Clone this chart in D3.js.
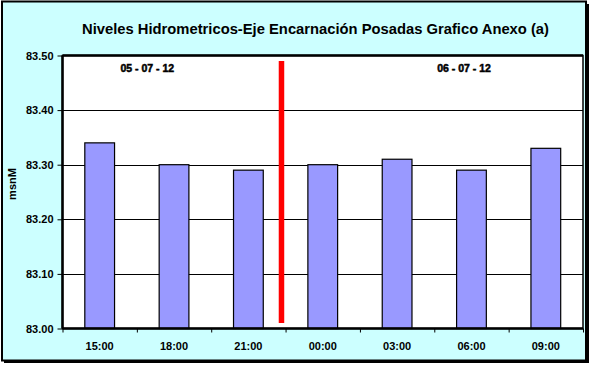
<!DOCTYPE html>
<html><head><meta charset="utf-8">
<script src="https://cdn.jsdelivr.net/npm/d3@7"></script>
<style>body{margin:0;background:#fff}svg{display:block}</style>
</head><body>
<script>
const categories = ["15:00","18:00","21:00","00:00","03:00","06:00","09:00"];
const values = [83.34, 83.30, 83.29, 83.30, 83.31, 83.29, 83.33];
const yTicks = [83.00, 83.10, 83.20, 83.30, 83.40, 83.50];
const dateLabels = [{text:"05 - 07 - 12", at:1.14}, {text:"06 - 07 - 12", at:5.40}];
const divider = {at: 2.945, from: 83.01, to: 83.49};
const title = "Niveles Hidrometricos-Eje Encarnación Posadas Grafico Anexo (a)";
const yTitle = "msnM";

const W = 595, H = 368;
const m = {left: 62.5, right: 583, top: 55.5, bottom: 328.5};
const svg = d3.select("body").append("svg").attr("width", W).attr("height", H);

// frame with shadow
svg.append("rect").attr("x",4).attr("y",4).attr("width",585).attr("height",359).attr("fill","#000");
svg.append("rect").attr("x",2).attr("y",1.5).attr("width",584).attr("height",359)
  .attr("fill","#CCFFFF").attr("stroke","#000").attr("stroke-width",2);

const x = d3.scaleBand().domain(categories).range([m.left, m.right]).paddingInner(0.6).paddingOuter(0.3);
const xi = d3.scaleLinear().domain([0, categories.length]).range([m.left, m.right]);
const y = d3.scaleLinear().domain([83.0, 83.5]).range([m.bottom, m.top]);

svg.append("rect").attr("x",m.left).attr("y",m.top).attr("width",m.right-m.left).attr("height",m.bottom-m.top).attr("fill","#fff");

// gridlines
svg.append("g").selectAll("line").data(yTicks.slice(1,-1)).join("line")
  .attr("x1",m.left).attr("x2",m.right).attr("y1",d=>Math.round(y(d))+0.5).attr("y2",d=>Math.round(y(d))+0.5)
  .attr("stroke","#000").attr("stroke-width",1);

// bars
svg.append("g").selectAll("rect").data(values).join("rect")
  .attr("x",(d,i)=>x(categories[i])).attr("width",x.bandwidth())
  .attr("y",d=>y(d)).attr("height",d=>y(83.0)-y(d))
  .attr("fill","#9999FF").attr("stroke","#000").attr("stroke-width",1.2);

// plot border
svg.append("rect").attr("x",m.left).attr("y",m.top).attr("width",m.right-m.left).attr("height",m.bottom-m.top)
  .attr("fill","none").attr("stroke","#000").attr("stroke-width",1.5);
svg.append("line").attr("x1",m.left).attr("x2",m.left).attr("y1",m.top).attr("y2",m.bottom).attr("stroke","#000").attr("stroke-width",2.5);
svg.append("line").attr("x1",m.left).attr("x2",m.right).attr("y1",m.bottom).attr("y2",m.bottom).attr("stroke","#000").attr("stroke-width",2.5);
svg.append("line").attr("x1",m.left).attr("x2",m.right).attr("y1",m.top).attr("y2",m.top).attr("stroke","#000").attr("stroke-width",2.5);

// y axis
const yAxis = d3.axisLeft(y).tickValues(yTicks).tickFormat(d3.format(".2f")).tickSize(5).tickPadding(4);
const gy = svg.append("g").attr("transform",`translate(${m.left},0)`).call(yAxis);
gy.select(".domain").remove();
gy.selectAll("line").attr("stroke","#000");
gy.selectAll("text").attr("font-family","Liberation Sans, Arial, sans-serif").attr("font-weight","bold").attr("font-size",11).attr("fill","#000");

// x axis
const xAxis = d3.axisBottom(xi).tickValues(d3.range(categories.length+1)).tickFormat("").tickSize(4);
const gx = svg.append("g").attr("transform",`translate(0,${m.bottom})`).call(xAxis);
gx.select(".domain").remove();
gx.selectAll("line").attr("stroke","#000");
svg.append("g").selectAll("text").data(categories).join("text")
  .attr("x",d=>x(d)+x.bandwidth()/2).attr("y",350)
  .attr("text-anchor","middle").attr("font-family","Liberation Sans, Arial, sans-serif")
  .attr("font-weight","bold").attr("font-size",11).text(d=>d);

// divider
svg.append("line").attr("x1",xi(divider.at)).attr("x2",xi(divider.at))
  .attr("y1",y(divider.to)).attr("y2",y(divider.from))
  .attr("stroke","#FF0000").attr("stroke-width",5.5);

// date labels
svg.append("g").selectAll("text").data(dateLabels).join("text")
  .attr("x",d=>xi(d.at)).attr("y",72).attr("text-anchor","middle")
  .attr("font-family","Liberation Sans, Arial, sans-serif").attr("font-weight","bold").attr("font-size",10.5)
  .attr("stroke","#000").attr("stroke-width",0.5)
  .text(d=>d.text);

// title
svg.append("text").attr("x",315.5).attr("y",33.5).attr("text-anchor","middle")
  .attr("font-family","Liberation Sans, Arial, sans-serif").attr("font-size",15.5).attr("font-weight","bold").attr("fill","#000")
  .attr("textLength",467).attr("lengthAdjust","spacingAndGlyphs").text(title);

// y title
svg.append("text").attr("transform","translate(16,184) rotate(-90)").attr("text-anchor","middle")
  .attr("font-family","Liberation Sans, Arial, sans-serif").attr("font-weight","bold").attr("font-size",11).text(yTitle);
</script>
</body></html>
